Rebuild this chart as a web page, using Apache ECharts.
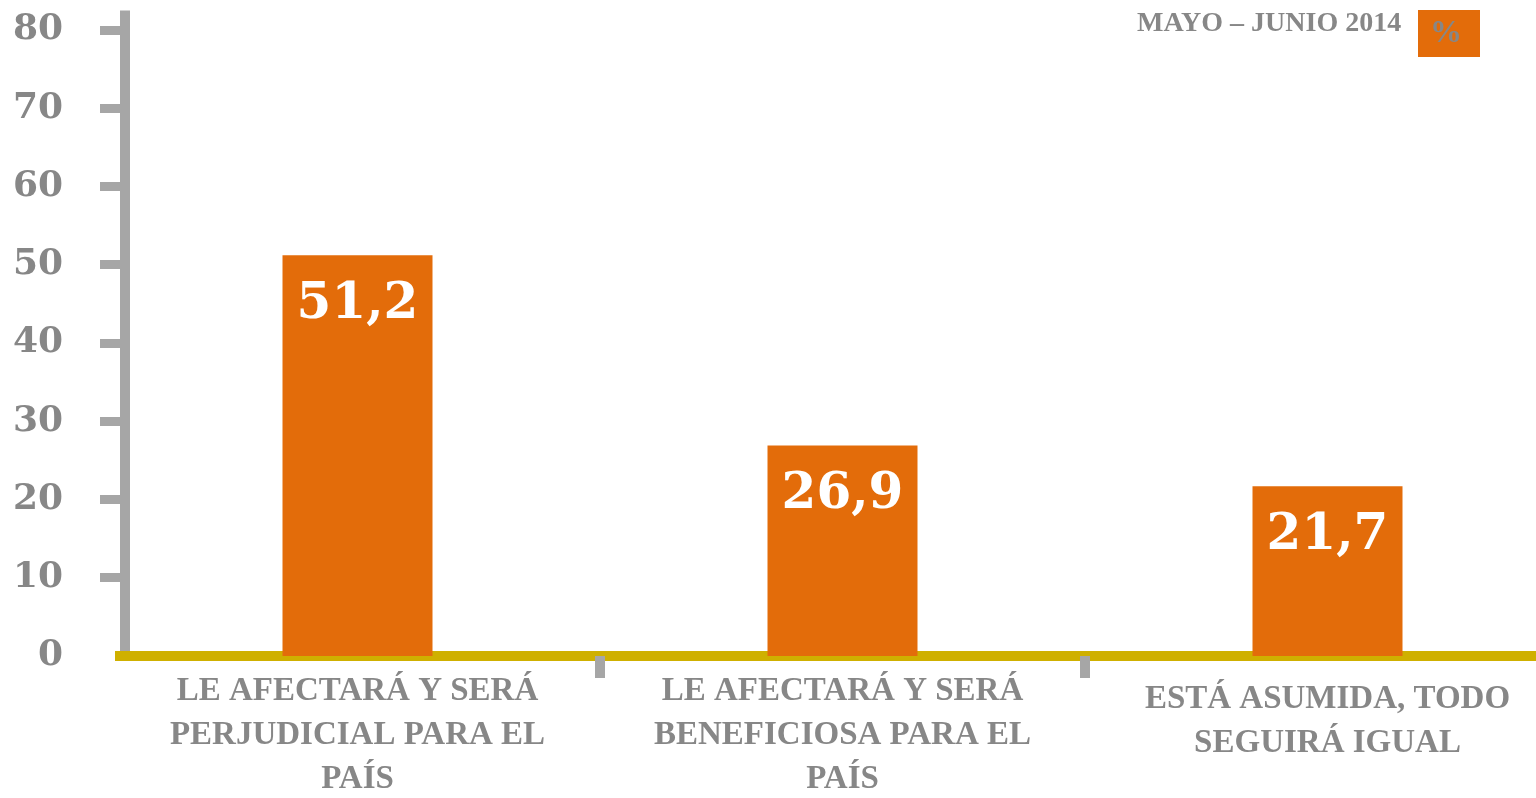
<!DOCTYPE html>
<html>
<head>
<meta charset="utf-8">
<script src="https://cdn.jsdelivr.net/npm/echarts@6/dist/echarts.min.js"></script>
<style>
  html, body { margin: 0; padding: 0; background: #fff; }
  #chart { width: 1536px; height: 798px; }
</style>
</head>
<body>
<div id="chart"></div>
<script>
// datos
var categorias = [
	'LE AFECTARÁ Y SERÁ\nPERJUDICIAL PARA EL\nPAÍS',
	'LE AFECTARÁ Y SERÁ\nBENEFICIOSA PARA EL\nPAÍS',
	'ESTÁ ASUMIDA, TODO\nSEGUIRÁ IGUAL'
];
var valores = [51.2, 26.9, 21.7];
var ticksY = [10, 20, 30, 40, 50, 60, 70, 80];
var etiquetasY = [0, 10, 20, 30, 40, 50, 60, 70, 80];
var periodo = 'MAYO – JUNIO 2014';
var nombreSerie = '%';

var gris = '#878787';
var naranja = '#e36c0a';
var serif = "'Liberation Serif', serif";
var serifNum = "'DejaVu Serif', serif";

var myChart = echarts.init(document.getElementById('chart'));

var xdata = [];
for (var i = 0; i < categorias.length; i++) {
	var item = { value: categorias[i] };
	if (categorias[i].split('\n').length < 3) {
		item.textStyle = { padding: [8, 0, 0, 0] };
	}
	xdata.push(item);
}

var option = {
	animation: false,
	title: {
		text: periodo,
		left: 1132,
		top: 5,
		textStyle: {
			color: gris,
			fontFamily: serif,
			fontWeight: 'bold',
			fontSize: 28
		}
	},
	legend: {
		left: 1408,
		top: 5,
		icon: 'none',
		itemWidth: 0,
		itemHeight: 0,
		selectedMode: false,
		data: [nombreSerie],
		textStyle: {
			color: gris,
			fontFamily: serif,
			fontWeight: 'bold',
			fontSize: 32,
			lineHeight: 33,
			backgroundColor: naranja,
			width: 50,
			padding: [5, 0, 9, 12]
		}
	},
	grid: {
		left: 115,
		top: 10.4,
		width: 1455,
		bottom: 142,
		outerBoundsMode: 'none',
		containLabel: false
	},
	xAxis: {
		type: 'category',
		data: xdata,
		offset: 5,
		axisLine: {
			lineStyle: { color: '#cfb000', width: 10, cap: 'butt' }
		},
		axisTick: {
			show: true,
			length: 22,
			interval: function (index) { return index !== 0; },
			lineStyle: { color: '#a6a6a6', width: 10 }
		},
		axisLabel: {
			color: gris,
			fontFamily: serif,
			fontWeight: 'bold',
			fontSize: 33,
			lineHeight: 44,
			margin: 8,
			interval: 0
		}
	},
	yAxis: {
		type: 'value',
		min: 0,
		max: 82.5,
		offset: -10,
		splitLine: { show: false },
		axisLine: {
			show: true,
			lineStyle: { color: '#a6a6a6', width: 10, cap: 'butt' }
		},
		axisTick: {
			show: true,
			length: 25,
			customValues: ticksY,
			lineStyle: { color: '#a6a6a6', width: 9 }
		},
		axisLabel: {
			color: gris,
			fontFamily: serifNum,
			fontWeight: 'bold',
			fontSize: 36,
			margin: 62,
			padding: [0, 0, 12, 0],
			customValues: etiquetasY
		}
	},
	series: [
		{
			name: nombreSerie,
			type: 'bar',
			barWidth: 150,
			itemStyle: { color: naranja },
			label: {
				show: true,
				position: 'insideTop',
				distance: 25,
				color: '#fff',
				fontFamily: serifNum,
				fontWeight: 'bold',
				fontSize: 50,
				formatter: function (p) {
					return String(p.value).replace('.', ',');
				}
			},
			data: valores
		}
	]
};

myChart.setOption(option);
</script>
</body>
</html>
